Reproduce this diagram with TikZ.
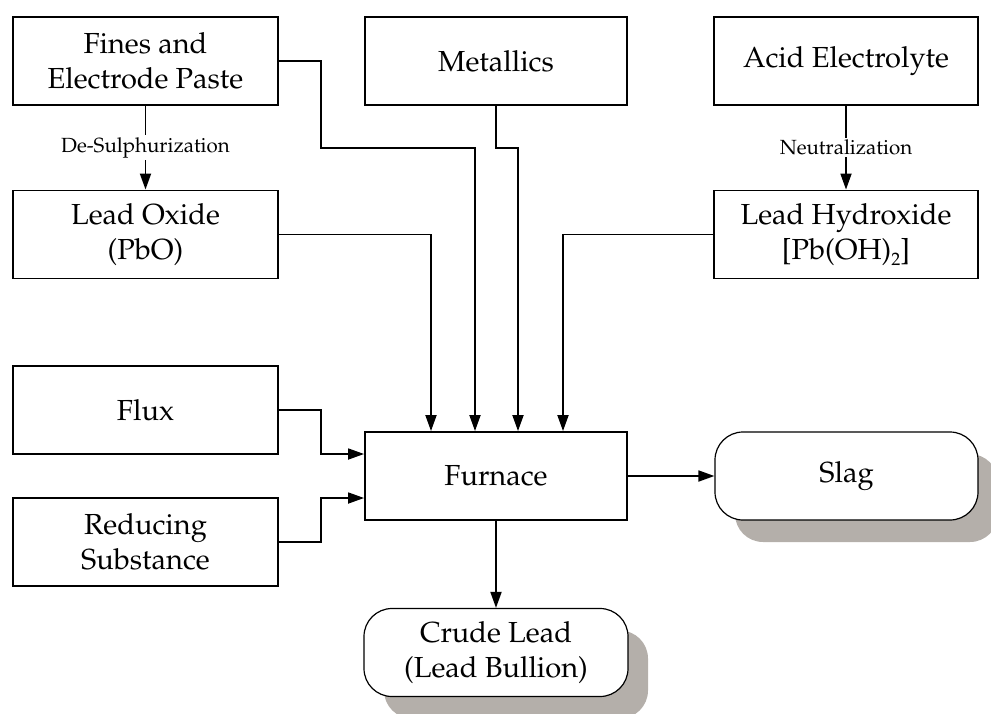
\documentclass[tikz,border=0pt]{standalone}
\usepackage[T1]{fontenc}
\usepackage{palatino}
\usetikzlibrary{arrows.meta,shadows}
\definecolor{shadowgray}{RGB}{180,175,170}
\tikzset{
  box/.style={draw, line width=1.9pt, minimum width=265pt, minimum height=88pt, inner sep=0pt, align=center, font=\fontsize{29}{35}\selectfont},
  rbox/.style={draw, line width=1.2pt, rounded corners=28pt, fill=white, minimum width=264pt, minimum height=88pt, inner sep=0pt, align=center, font=\fontsize{29}{35}\selectfont, drop shadow={shadow xshift=20pt, shadow yshift=-22pt, fill=shadowgray, opacity=1}},
  arr/.style={line width=1.8pt, -{Triangle[length=16pt,width=11pt]}},
  lbl/.style={fill=white, inner sep=2pt, font=\fontsize{20.5}{24}\selectfont}
}
\begin{document}
\begin{tikzpicture}[x=1pt,y=-1pt]
\useasboundingbox (0,0) rectangle (991,713);
\node[box] (fines) at (145.5,61) {Fines and\\Electrode Paste};
\node[box, minimum width=262pt] (metal) at (496,61) {Metallics};
\node[box, minimum width=264pt] (acid) at (846,61) {Acid Electrolyte};
\node[box] (oxide) at (145.5,234.5) {Lead Oxide\\(PbO)};
\node[box, minimum width=264pt] (hydrox) at (846,234.5) {Lead Hydroxide\\{}[Pb(OH)\raisebox{-6pt}{\fontsize{18}{18}\selectfont 2}]};
\node[box] (flux) at (145.5,410) {Flux};
\node[box] (reduc) at (145.5,542) {Reducing\\Substance};
\node[box, minimum width=262pt] (furnace) at (496,476) {Furnace};
\node[rbox, minimum width=263pt] (slag) at (846.5,476) {Slag};
\node[rbox] (crude) at (496,652.5) {Crude Lead\\(Lead Bullion)};

\draw[arr] (fines.south) -- node[lbl] {De-Sulphurization} (oxide.north);
\draw[arr] (acid.south) -- node[lbl] {Neutralization} (hydrox.north);
\draw[arr] (fines.east) -| (321,148) -| ([xshift=-21pt]furnace.north);
\draw[arr] (metal.south) -- (496,148) -| ([xshift=22pt]furnace.north);
\draw[arr] (oxide.east) -| ([xshift=-65pt]furnace.north);
\draw[arr] (hydrox.west) -| ([xshift=67pt]furnace.north);
\draw[arr] (flux.east) -| (321,454) -- ([yshift=22pt]furnace.west);
\draw[arr] (reduc.east) -| (321,498) -- ([yshift=-22pt]furnace.west);
\draw[arr] (furnace.east) -- (slag.west);
\draw[arr] (furnace.south) -- (crude.north);
\end{tikzpicture}
\end{document}
